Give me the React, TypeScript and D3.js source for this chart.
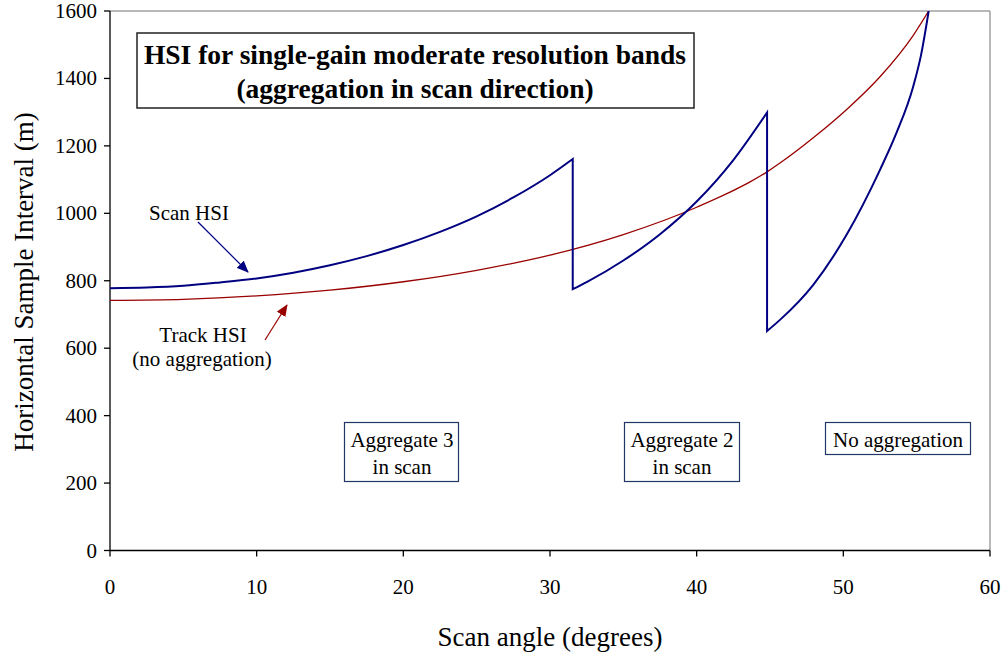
import React from "react";
import * as d3 from "d3";

const xTicks = [0, 10, 20, 30, 40, 50, 60];
const yTicks = [0, 200, 400, 600, 800, 1000, 1200, 1400, 1600];

// Scan HSI, three aggregation segments
const scanSeg1Angles = [0, 2.5, 5, 7.5, 10, 12.5, 15, 17.5, 20, 22.5, 25, 27.5, 30, 31.55];
const scanSeg1Values = [778, 780, 785, 795, 807, 824, 846, 873, 906, 945, 991, 1047, 1113, 1161];
const scanSeg2Angles = [31.55, 32.5, 35, 37.5, 40, 42.5, 44.8];
const scanSeg2Values = [775, 796, 860, 938, 1035, 1158, 1299];
const scanSeg3Angles = [44.8, 45.68, 47.95, 50.23, 52.5, 53.6, 54.77, 55.3, 55.82];
const scanSeg3Values = [651, 684, 788, 937, 1129, 1236, 1377, 1470, 1600];

// Track HSI (no aggregation)
const trackAngles = [0, 5, 10, 15, 20, 25, 30, 35, 40, 44.8, 45.68, 47.95, 50.23, 52.5, 54.77, 55.82];
const trackValues = [742, 745, 755, 772, 797, 831, 876, 937, 1018, 1123, 1149, 1224, 1308, 1405, 1528, 1600];

const W = 1003;
const H = 652;
const left = 110;
const right = 990;
const top = 11;
const bottom = 550.5;

export default function App() {
  const x = d3.scaleLinear().domain([0, 60]).range([left, right]);
  const y = d3.scaleLinear().domain([0, 1600]).range([bottom, top]);

  const line = d3
    .line<[number, number]>()
    .x((d) => x(d[0]))
    .y((d) => y(d[1]))
    .curve(d3.curveMonotoneX);

  const segs = [
    [scanSeg1Angles, scanSeg1Values],
    [scanSeg2Angles, scanSeg2Values],
    [scanSeg3Angles, scanSeg3Values],
  ].map(([a, v]) => a.map((ang, i) => [ang, v[i]] as [number, number]));
  const scanPath = segs
    .map((s, i) => {
      const p = line(s) || "";
      return i === 0 ? p : "L" + p.slice(1);
    })
    .join("");
  const trackPath =
    line(trackAngles.map((a, i) => [a, trackValues[i]] as [number, number])) || "";

  const font = "'Liberation Serif', 'Times New Roman', Times, 'DejaVu Serif', serif";
  const navy = "#000080";
  const darkRed = "#990000";
  const boxStroke = "#1f3864";
  const ts: React.CSSProperties = { fontFamily: font };

  return (
    <svg
      width={W}
      height={H}
      style={{ position: "absolute", left: 0, top: 0, background: "#fff", fontFamily: font }}
    >
      <defs>
        <marker id="arrBlue" viewBox="0 0 12 10" refX="11" refY="5" markerWidth="12" markerHeight="10" orient="auto" markerUnits="userSpaceOnUse">
          <path d="M0,0 L12,5 L0,10 z" fill={navy} />
        </marker>
        <marker id="arrRed" viewBox="0 0 12 10" refX="11" refY="5" markerWidth="12" markerHeight="10" orient="auto" markerUnits="userSpaceOnUse">
          <path d="M0,0 L12,5 L0,10 z" fill={darkRed} />
        </marker>
        <clipPath id="plotClip">
          <rect x={left} y={top} width={right - left} height={bottom - top} />
        </clipPath>
      </defs>

      {/* frame */}
      <line x1={left} x2={right} y1={top} y2={top} stroke="#a0a0a0" strokeWidth={1.5} />
      <line x1={right} x2={right} y1={top} y2={bottom} stroke="#a0a0a0" strokeWidth={1.5} />
      <line x1={left} x2={left} y1={top} y2={bottom} stroke="#000" strokeWidth={1.3} />
      <line x1={left} x2={right} y1={bottom} y2={bottom} stroke="#000" strokeWidth={1.3} />

      {/* y ticks */}
      {yTicks.map((t) => (
        <g key={"y" + t}>
          <line x1={left - 6} x2={left} y1={y(t)} y2={y(t)} stroke="#000" strokeWidth={1.3} />
          <text x={97} y={y(t) + 7} textAnchor="end" fontSize={21} style={ts}>
            {t}
          </text>
        </g>
      ))}
      {/* x ticks */}
      {xTicks.map((t) => (
        <g key={"x" + t}>
          <line x1={x(t)} x2={x(t)} y1={bottom} y2={bottom + 6} stroke="#000" strokeWidth={1.3} />
          <text x={x(t)} y={594} textAnchor="middle" fontSize={21} style={ts}>
            {t}
          </text>
        </g>
      ))}

      <text x={550} y={646} textAnchor="middle" fontSize={27} style={ts}>
        Scan angle (degrees)
      </text>
      <text transform={`translate(32.5,282) rotate(-90)`} textAnchor="middle" fontSize={27} style={ts}>
        Horizontal Sample Interval (m)
      </text>

      {/* series */}
      <g clipPath="url(#plotClip)">
        <path d={trackPath} fill="none" stroke={darkRed} strokeWidth={1.3} />
        <path d={scanPath} fill="none" stroke={navy} strokeWidth={2} strokeLinejoin="miter" />
      </g>

      {/* title box */}
      <rect x={137} y={33} width={557} height={75} fill="#fff" stroke="#222" strokeWidth={1.5} />
      <text x={415} y={64} textAnchor="middle" fontSize={27.5} fontWeight="bold" style={ts}>
        HSI for single-gain moderate resolution bands
      </text>
      <text x={415} y={98} textAnchor="middle" fontSize={27.5} fontWeight="bold" style={ts}>
        (aggregation in scan direction)
      </text>

      {/* annotations */}
      <text x={189} y={219.5} textAnchor="middle" fontSize={21} style={ts}>
        Scan HSI
      </text>
      <line x1={198} y1={222} x2={248} y2={272} stroke={navy} strokeWidth={1.2} markerEnd="url(#arrBlue)" />
      <text x={203} y={342} textAnchor="middle" fontSize={21} style={ts}>
        Track HSI
      </text>
      <text x={202} y={366} textAnchor="middle" fontSize={21} style={ts}>
        (no aggregation)
      </text>
      <line x1={265} y1={340} x2={287} y2={305} stroke={darkRed} strokeWidth={1.2} markerEnd="url(#arrRed)" />

      {/* region boxes */}
      <rect x={344.5} y={422.5} width={114} height={59} fill="#fff" stroke={boxStroke} strokeWidth={1.2} />
      <text x={402} y={447} textAnchor="middle" fontSize={21} style={ts}>
        Aggregate 3
      </text>
      <text x={402} y={474} textAnchor="middle" fontSize={21} style={ts}>
        in scan
      </text>
      <rect x={624.5} y={422.5} width={115} height={59} fill="#fff" stroke={boxStroke} strokeWidth={1.2} />
      <text x={682} y={447} textAnchor="middle" fontSize={21} style={ts}>
        Aggregate 2
      </text>
      <text x={682} y={474} textAnchor="middle" fontSize={21} style={ts}>
        in scan
      </text>
      <rect x={825.5} y={422.5} width={145} height={32} fill="#fff" stroke={boxStroke} strokeWidth={1.2} />
      <text x={898} y={447} textAnchor="middle" fontSize={21} style={ts}>
        No aggregation
      </text>
    </svg>
  );
}
